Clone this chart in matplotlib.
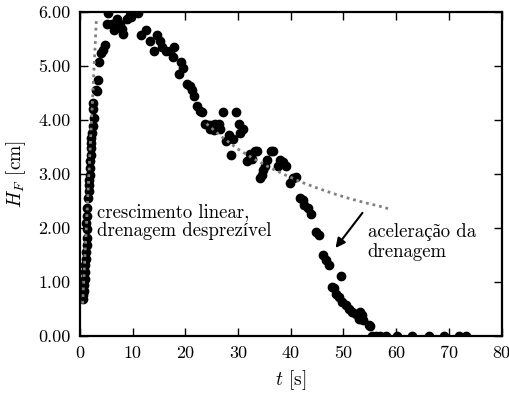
import matplotlib
matplotlib.use("Agg")
import matplotlib.pyplot as plt

plt.rcParams['font.family'] = ['cmr10', 'Liberation Serif']
plt.rcParams['mathtext.fontset'] = 'cm'
plt.rcParams['axes.unicode_minus'] = False
plt.rcParams['axes.formatter.use_mathtext'] = True

# Measured foam height H_F [cm] versus time t [s]
t_meas = [0.57, 0.65, 0.76, 0.85, 0.89, 0.95, 1.0, 1.05, 1.2, 1.3, 1.39, 1.39,
          1.2, 1.3, 1.39, 1.52, 1.65, 1.75, 1.65, 1.84, 1.84, 1.95, 2.03, 2.15,
          2.03, 2.15, 2.28, 2.47, 2.66, 2.47, 2.5, 2.98, 3.3, 3.4, 3.55, 4.05,
          4.4, 4.7,
          5.07, 5.4, 6.0, 6.5, 6.97, 7.2, 7.5, 8.0, 8.1, 9.0, 9.5, 9.75, 10.1,
          10.96, 11.6, 12.5, 13.3, 14.1, 14.6, 15.2, 15.6, 16.3, 17.1, 17.6,
          17.9, 18.7, 19.2, 19.6, 20.3, 20.8, 21.2, 21.7, 22.2, 22.7, 23.1,
          23.8, 24.4, 24.7, 25.0, 25.5, 25.65, 26.3, 26.6, 27.1, 27.7, 28.2,
          28.6, 29.1, 29.6, 30.1, 30.4, 31.0, 31.7, 32.2, 32.6, 33.25, 33.6,
          34.2, 34.5, 34.8, 35.2, 35.5, 36.2, 36.7, 37.5, 38.0, 38.6, 39.1,
          39.9, 40.5, 41.0, 41.7, 42.3, 42.6, 43.2, 43.8, 44.7, 45.3, 46.2,
          46.7, 47.2, 47.8, 48.3, 48.6, 49.1, 49.5, 49.7, 50.4, 51.0, 51.6,
          52.3, 52.9, 53.2, 53.5, 53.8, 54.8, 55.1, 55.4, 56.1, 57.0, 58.0,
          60.2, 63.0, 66.2, 69.0, 71.9, 73.2]
h_meas = [0.69, 0.75, 0.84, 0.94, 1.06, 1.18, 1.31, 1.42, 1.56, 1.68, 1.81, 1.99,
          2.09, 2.22, 2.37, 2.55, 2.68, 2.80, 2.89, 2.99, 3.11, 3.24, 3.36, 3.48,
          3.58, 3.67, 3.76, 3.89, 4.04, 4.20, 4.32, 4.55, 4.54, 4.75, 5.07, 5.25,
          5.29, 5.38,
          5.78, 5.98, 5.77, 5.66, 5.87, 5.77, 5.78, 5.69, 5.60, 5.87, 5.94, 5.90, 6.00,
          5.98, 5.57, 5.66, 5.47, 5.27, 5.58, 5.47, 5.35, 5.27, 5.27, 5.16,
          5.35, 4.86, 5.07, 4.96, 4.66, 4.63, 4.55, 4.45, 4.26, 4.16, 4.14,
          3.93, 3.91, 3.84, 3.91, 3.81, 3.93, 3.92, 3.84, 4.14, 3.62, 3.73,
          3.35, 3.64, 4.14, 3.93, 3.76, 3.84, 3.24, 3.37, 3.27, 3.43, 3.43,
          2.93, 2.99, 3.08, 3.14, 3.25, 3.43, 3.42, 3.14, 3.25, 3.22, 3.14,
          2.83, 2.93, 2.94, 2.55, 2.52, 2.43, 2.37, 2.25, 1.93, 1.87, 1.50,
          1.40, 1.31, 0.91, 0.88, 0.78, 0.72, 1.11, 0.63, 0.57, 0.50, 0.44,
          0.41, 0.32, 0.44, 0.38, 0.29, 0.20, 0.18, 0.0, 0.0, 0.0, 0.0,
          0.0, 0.0, 0.0, 0.0, 0.0, 0.0]

# Linear growth (negligible drainage)
t_lin = [0.5, 3.1]
h_lin = [0.60, 5.85]

# Height evolution without accelerated drainage
t_drain = [24, 27, 30, 33, 36, 39, 42, 45, 48, 51, 54, 57, 58.8]
h_drain = [3.93, 3.68, 3.46, 3.28, 3.12, 2.98, 2.85, 2.74, 2.64, 2.55, 2.47, 2.40, 2.35]

x_ticks = [0, 10, 20, 30, 40, 50, 60, 70, 80]
y_ticks = [0, 1, 2, 3, 4, 5, 6]

fig = plt.figure(figsize=(5.09, 3.95), dpi=100)
ax = fig.add_axes([0.1572, 0.1494, 0.8281, 0.8202])

ax.plot(t_meas, h_meas, 'o', color='black', ms=6, mec='black', zorder=3)
ax.plot(t_lin, h_lin, linestyle=(0, (1, 1.4)), color='0.5', lw=2.0, zorder=4)
ax.plot(t_drain, h_drain, linestyle=(0, (1, 1.4)), color='0.5', lw=2.0, zorder=4)

ax.set_xlim(0, 80)
ax.set_ylim(0, 6)
ax.set_xticks(x_ticks)
ax.set_yticks(y_ticks)
ax.set_xticklabels([str(v) for v in x_ticks])
ax.set_yticklabels(['%.2f' % v for v in y_ticks])
ax.tick_params(direction='in', length=6, width=1, labelsize=13,
               top=True, right=True, pad=7)
for s in ax.spines.values():
    s.set_linewidth(1.6)

ax.set_xlabel(r'$t$ [s]', fontsize=14, labelpad=5)
ax.set_ylabel(r'$H_F$ [cm]', fontsize=14, labelpad=7)

ax.text(3.3, 2.12, 'crescimento linear,\ndrenagem desprezível',
        fontsize=13.5, ha='left', va='center', linespacing=1.1)
ax.text(54.6, 1.74, 'aceleração da\ndrenagem',
        fontsize=13.5, ha='left', va='center', linespacing=1.1)
ax.annotate('', xy=(48.5, 1.63), xytext=(53.6, 2.28),
            arrowprops=dict(arrowstyle='-|>', color='black', lw=1.5,
                            mutation_scale=14, shrinkA=0, shrinkB=0))

fig.savefig('out.png', dpi=100)
